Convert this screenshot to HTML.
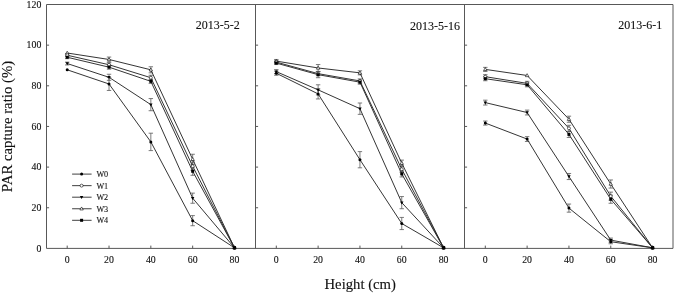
<!DOCTYPE html>
<html><head><meta charset="utf-8"><style>
html,body{margin:0;padding:0;background:#fff;}
body{width:675px;height:294px;overflow:hidden;}
svg{display:block;filter:grayscale(1) blur(0.3px);}
text{font-family:"Liberation Serif",serif;fill:#111;stroke:#111;stroke-width:0.12px;}
.tk{font-size:9.8px;}
.lg{font-size:8.2px;fill:#222;}
.tt{font-size:12px;}
.ax{font-size:14.7px;}
.ay{font-size:14.8px;}
</style></head><body>
<svg width="675" height="294" viewBox="0 0 675 294">
<rect x="0" y="0" width="675" height="294" fill="#fff"/>
<g stroke="#585858" stroke-width="1.0" fill="none">
<path d="M46.5,4.5H673.0V248.4H46.5Z"/>
<path d="M255.5,4.5V248.4"/>
<path d="M464.5,4.5V248.4"/>
<path d="M46.5,207.75h2.6"/>
<path d="M46.5,167.10h2.6"/>
<path d="M46.5,126.45h2.6"/>
<path d="M46.5,85.80h2.6"/>
<path d="M46.5,45.15h2.6"/>
<path d="M255.5,207.75h2.6"/>
<path d="M255.5,167.10h2.6"/>
<path d="M255.5,126.45h2.6"/>
<path d="M255.5,85.80h2.6"/>
<path d="M255.5,45.15h2.6"/>
<path d="M464.5,207.75h2.6"/>
<path d="M464.5,167.10h2.6"/>
<path d="M464.5,126.45h2.6"/>
<path d="M464.5,85.80h2.6"/>
<path d="M464.5,45.15h2.6"/>
<path d="M67.20,248.4v-2.8"/>
<path d="M109.02,248.4v-2.8"/>
<path d="M150.84,248.4v-2.8"/>
<path d="M192.66,248.4v-2.8"/>
<path d="M234.48,248.4v-2.8"/>
<path d="M276.30,248.4v-2.8"/>
<path d="M318.12,248.4v-2.8"/>
<path d="M359.94,248.4v-2.8"/>
<path d="M401.76,248.4v-2.8"/>
<path d="M443.58,248.4v-2.8"/>
<path d="M485.30,248.4v-2.8"/>
<path d="M527.12,248.4v-2.8"/>
<path d="M568.94,248.4v-2.8"/>
<path d="M610.76,248.4v-2.8"/>
<path d="M652.58,248.4v-2.8"/>
</g>
<g stroke="#5a5a5a" stroke-width="0.8" fill="none">
<path d="M109.02,57.05V61.91M106.82,57.05h4.4M106.82,61.91h4.4"/>
<path d="M150.84,66.77V72.84M148.64,66.77h4.4M148.64,72.84h4.4"/>
<path d="M192.66,154.25V164.37M190.46,154.25h4.4M190.46,164.37h4.4"/>
<path d="M67.20,53.81V56.64M65.00,53.81h4.4M65.00,56.64h4.4"/>
<path d="M109.02,62.72V66.77M106.82,62.72h4.4M106.82,66.77h4.4"/>
<path d="M150.84,75.27V80.13M148.64,75.27h4.4M148.64,80.13h4.4"/>
<path d="M192.66,162.14V170.24M190.46,162.14h4.4M190.46,170.24h4.4"/>
<path d="M67.20,55.83V58.67M65.00,55.83h4.4M65.00,58.67h4.4"/>
<path d="M109.02,65.15V69.20M106.82,65.15h4.4M106.82,69.20h4.4"/>
<path d="M150.84,79.32V83.37M148.64,79.32h4.4M148.64,83.37h4.4"/>
<path d="M192.66,167.21V175.31M190.46,167.21h4.4M190.46,175.31h4.4"/>
<path d="M67.20,62.11V64.94M65.00,62.11h4.4M65.00,64.94h4.4"/>
<path d="M109.02,74.26V80.33M106.82,74.26h4.4M106.82,80.33h4.4"/>
<path d="M150.84,98.56V110.71M148.64,98.56h4.4M148.64,110.71h4.4"/>
<path d="M192.66,193.12V203.25M190.46,193.12h4.4M190.46,203.25h4.4"/>
<path d="M109.02,77.50V90.46M106.82,77.50h4.4M106.82,90.46h4.4"/>
<path d="M150.84,133.19V150.60M148.64,133.19h4.4M148.64,150.60h4.4"/>
<path d="M192.66,215.60V225.73M190.46,215.60h4.4M190.46,225.73h4.4"/>
<path d="M276.30,59.48V62.72M274.10,59.48h4.4M274.10,62.72h4.4"/>
<path d="M318.12,64.54V71.42M315.92,64.54h4.4M315.92,71.42h4.4"/>
<path d="M359.94,70.81V74.87M357.74,70.81h4.4M357.74,74.87h4.4"/>
<path d="M401.76,160.12V166.19M399.56,160.12h4.4M399.56,166.19h4.4"/>
<path d="M276.30,60.69V63.53M274.10,60.69h4.4M274.10,63.53h4.4"/>
<path d="M318.12,71.63V75.68M315.92,71.63h4.4M315.92,75.68h4.4"/>
<path d="M359.94,78.92V82.97M357.74,78.92h4.4M357.74,82.97h4.4"/>
<path d="M401.76,166.19V172.27M399.56,166.19h4.4M399.56,172.27h4.4"/>
<path d="M276.30,61.70V64.54M274.10,61.70h4.4M274.10,64.54h4.4"/>
<path d="M318.12,71.63V77.70M315.92,71.63h4.4M315.92,77.70h4.4"/>
<path d="M359.94,80.13V84.18M357.74,80.13h4.4M357.74,84.18h4.4"/>
<path d="M401.76,170.85V176.93M399.56,170.85h4.4M399.56,176.93h4.4"/>
<path d="M276.30,69.60V73.65M274.10,69.60h4.4M274.10,73.65h4.4"/>
<path d="M318.12,84.79V94.91M315.92,84.79h4.4M315.92,94.91h4.4"/>
<path d="M359.94,103.01V114.35M357.74,103.01h4.4M357.74,114.35h4.4"/>
<path d="M401.76,196.57V208.72M399.56,196.57h4.4M399.56,208.72h4.4"/>
<path d="M276.30,71.22V75.27M274.10,71.22h4.4M274.10,75.27h4.4"/>
<path d="M318.12,88.84V98.96M315.92,88.84h4.4M315.92,98.96h4.4"/>
<path d="M359.94,151.61V167.81M357.74,151.61h4.4M357.74,167.81h4.4"/>
<path d="M401.76,217.43V229.58M399.56,217.43h4.4M399.56,229.58h4.4"/>
<path d="M485.30,67.37V71.42M483.10,67.37h4.4M483.10,71.42h4.4"/>
<path d="M568.94,116.18V122.25M566.74,116.18h4.4M566.74,122.25h4.4"/>
<path d="M610.76,179.96V188.06M608.56,179.96h4.4M608.56,188.06h4.4"/>
<path d="M485.30,74.66V78.71M483.10,74.66h4.4M483.10,78.71h4.4"/>
<path d="M527.12,81.34V85.40M524.92,81.34h4.4M524.92,85.40h4.4"/>
<path d="M568.94,125.29V131.36M566.74,125.29h4.4M566.74,131.36h4.4"/>
<path d="M610.76,192.11V200.21M608.56,192.11h4.4M608.56,200.21h4.4"/>
<path d="M485.30,76.69V80.74M483.10,76.69h4.4M483.10,80.74h4.4"/>
<path d="M527.12,82.76V86.81M524.92,82.76h4.4M524.92,86.81h4.4"/>
<path d="M568.94,131.36V137.44M566.74,131.36h4.4M566.74,137.44h4.4"/>
<path d="M610.76,195.15V203.25M608.56,195.15h4.4M608.56,203.25h4.4"/>
<path d="M485.30,100.18V105.04M483.10,100.18h4.4M483.10,105.04h4.4"/>
<path d="M527.12,110.10V114.96M524.92,110.10h4.4M524.92,114.96h4.4"/>
<path d="M568.94,173.48V179.56M566.74,173.48h4.4M566.74,179.56h4.4"/>
<path d="M610.76,238.08V242.13M608.56,238.08h4.4M608.56,242.13h4.4"/>
<path d="M485.30,121.04V125.09M483.10,121.04h4.4M483.10,125.09h4.4"/>
<path d="M527.12,136.63V141.49M524.92,136.63h4.4M524.92,141.49h4.4"/>
<path d="M568.94,204.06V212.16M566.74,204.06h4.4M566.74,212.16h4.4"/>
<path d="M610.76,239.70V243.75M608.56,239.70h4.4M608.56,243.75h4.4"/>
</g>
<g stroke="#2a2a2a" stroke-width="0.95" fill="none" stroke-linejoin="round">
<polyline points="67.20,53.00 109.02,59.48 150.84,69.80 192.66,159.31 234.48,247.80"/>
<polyline points="67.20,55.22 109.02,64.74 150.84,77.70 192.66,166.19 234.48,247.80"/>
<polyline points="67.20,57.25 109.02,67.17 150.84,81.34 192.66,171.26 234.48,247.80"/>
<polyline points="67.20,63.53 109.02,77.30 150.84,104.63 192.66,198.19 234.48,247.80"/>
<polyline points="67.20,69.80 109.02,83.98 150.84,141.89 192.66,220.67 234.48,247.80"/>
<polyline points="276.30,61.10 318.12,67.98 359.94,72.84 401.76,163.16 443.58,247.80"/>
<polyline points="276.30,62.11 318.12,73.65 359.94,80.94 401.76,169.23 443.58,247.80"/>
<polyline points="276.30,63.12 318.12,74.66 359.94,82.16 401.76,173.89 443.58,247.80"/>
<polyline points="276.30,71.63 318.12,89.85 359.94,108.68 401.76,202.64 443.58,247.80"/>
<polyline points="276.30,73.25 318.12,93.90 359.94,159.71 401.76,223.50 443.58,247.80"/>
<polyline points="485.30,69.40 527.12,75.47 568.94,119.21 610.76,184.01 652.58,247.80"/>
<polyline points="485.30,76.69 527.12,83.37 568.94,128.33 610.76,196.16 652.58,247.80"/>
<polyline points="485.30,78.71 527.12,84.79 568.94,134.40 610.76,199.20 652.58,247.80"/>
<polyline points="485.30,102.61 527.12,112.53 568.94,176.52 610.76,240.11 652.58,247.80"/>
<polyline points="485.30,123.06 527.12,139.06 568.94,208.11 610.76,241.73 652.58,247.80"/>
</g>
<path d="M65.48,54.20L68.92,54.20L67.20,51.20Z" fill="#fff" stroke="#000" stroke-width="0.6"/>
<path d="M107.30,60.68L110.75,60.68L109.02,57.68Z" fill="#fff" stroke="#000" stroke-width="0.6"/>
<path d="M149.12,71.00L152.57,71.00L150.84,68.00Z" fill="#fff" stroke="#000" stroke-width="0.6"/>
<path d="M190.94,160.51L194.39,160.51L192.66,157.51Z" fill="#fff" stroke="#000" stroke-width="0.6"/>
<path d="M232.76,249.00L236.21,249.00L234.48,246.00Z" fill="#fff" stroke="#000" stroke-width="0.6"/>
<circle cx="67.20" cy="55.22" r="1.50" fill="#fff" stroke="#000" stroke-width="0.6"/>
<circle cx="109.02" cy="64.74" r="1.50" fill="#fff" stroke="#000" stroke-width="0.6"/>
<circle cx="150.84" cy="77.70" r="1.50" fill="#fff" stroke="#000" stroke-width="0.6"/>
<circle cx="192.66" cy="166.19" r="1.50" fill="#fff" stroke="#000" stroke-width="0.6"/>
<circle cx="234.48" cy="247.80" r="1.50" fill="#fff" stroke="#000" stroke-width="0.6"/>
<rect x="65.70" y="55.75" width="3.00" height="3.00" fill="#000"/>
<rect x="107.52" y="65.67" width="3.00" height="3.00" fill="#000"/>
<rect x="149.34" y="79.84" width="3.00" height="3.00" fill="#000"/>
<rect x="191.16" y="169.76" width="3.00" height="3.00" fill="#000"/>
<rect x="232.98" y="246.30" width="3.00" height="3.00" fill="#000"/>
<path d="M65.48,62.33L68.92,62.33L67.20,65.33Z" fill="#000"/>
<path d="M107.30,76.10L110.75,76.10L109.02,79.10Z" fill="#000"/>
<path d="M149.12,103.43L152.57,103.43L150.84,106.43Z" fill="#000"/>
<path d="M190.94,196.99L194.39,196.99L192.66,199.99Z" fill="#000"/>
<path d="M232.76,246.60L236.21,246.60L234.48,249.60Z" fill="#000"/>
<circle cx="67.20" cy="69.80" r="1.50" fill="#000"/>
<circle cx="109.02" cy="83.98" r="1.50" fill="#000"/>
<circle cx="150.84" cy="141.89" r="1.50" fill="#000"/>
<circle cx="192.66" cy="220.67" r="1.50" fill="#000"/>
<circle cx="234.48" cy="247.80" r="1.50" fill="#000"/>
<path d="M274.57,62.30L278.03,62.30L276.30,59.30Z" fill="#fff" stroke="#000" stroke-width="0.6"/>
<path d="M316.39,69.18L319.85,69.18L318.12,66.18Z" fill="#fff" stroke="#000" stroke-width="0.6"/>
<path d="M358.22,74.04L361.67,74.04L359.94,71.04Z" fill="#fff" stroke="#000" stroke-width="0.6"/>
<path d="M400.03,164.36L403.49,164.36L401.76,161.36Z" fill="#fff" stroke="#000" stroke-width="0.6"/>
<path d="M441.86,249.00L445.31,249.00L443.58,246.00Z" fill="#fff" stroke="#000" stroke-width="0.6"/>
<circle cx="276.30" cy="62.11" r="1.50" fill="#fff" stroke="#000" stroke-width="0.6"/>
<circle cx="318.12" cy="73.65" r="1.50" fill="#fff" stroke="#000" stroke-width="0.6"/>
<circle cx="359.94" cy="80.94" r="1.50" fill="#fff" stroke="#000" stroke-width="0.6"/>
<circle cx="401.76" cy="169.23" r="1.50" fill="#fff" stroke="#000" stroke-width="0.6"/>
<circle cx="443.58" cy="247.80" r="1.50" fill="#fff" stroke="#000" stroke-width="0.6"/>
<rect x="274.80" y="61.62" width="3.00" height="3.00" fill="#000"/>
<rect x="316.62" y="73.16" width="3.00" height="3.00" fill="#000"/>
<rect x="358.44" y="80.66" width="3.00" height="3.00" fill="#000"/>
<rect x="400.26" y="172.39" width="3.00" height="3.00" fill="#000"/>
<rect x="442.08" y="246.30" width="3.00" height="3.00" fill="#000"/>
<path d="M274.57,70.43L278.03,70.43L276.30,73.43Z" fill="#000"/>
<path d="M316.39,88.65L319.85,88.65L318.12,91.65Z" fill="#000"/>
<path d="M358.22,107.48L361.67,107.48L359.94,110.48Z" fill="#000"/>
<path d="M400.03,201.44L403.49,201.44L401.76,204.44Z" fill="#000"/>
<path d="M441.86,246.60L445.31,246.60L443.58,249.60Z" fill="#000"/>
<circle cx="276.30" cy="73.25" r="1.50" fill="#000"/>
<circle cx="318.12" cy="93.90" r="1.50" fill="#000"/>
<circle cx="359.94" cy="159.71" r="1.50" fill="#000"/>
<circle cx="401.76" cy="223.50" r="1.50" fill="#000"/>
<circle cx="443.58" cy="247.80" r="1.50" fill="#000"/>
<path d="M483.57,70.60L487.03,70.60L485.30,67.60Z" fill="#fff" stroke="#000" stroke-width="0.6"/>
<path d="M525.39,76.67L528.85,76.67L527.12,73.67Z" fill="#fff" stroke="#000" stroke-width="0.6"/>
<path d="M567.22,120.41L570.67,120.41L568.94,117.41Z" fill="#fff" stroke="#000" stroke-width="0.6"/>
<path d="M609.03,185.21L612.49,185.21L610.76,182.21Z" fill="#fff" stroke="#000" stroke-width="0.6"/>
<path d="M650.86,249.00L654.31,249.00L652.58,246.00Z" fill="#fff" stroke="#000" stroke-width="0.6"/>
<circle cx="485.30" cy="76.69" r="1.50" fill="#fff" stroke="#000" stroke-width="0.6"/>
<circle cx="527.12" cy="83.37" r="1.50" fill="#fff" stroke="#000" stroke-width="0.6"/>
<circle cx="568.94" cy="128.33" r="1.50" fill="#fff" stroke="#000" stroke-width="0.6"/>
<circle cx="610.76" cy="196.16" r="1.50" fill="#fff" stroke="#000" stroke-width="0.6"/>
<circle cx="652.58" cy="247.80" r="1.50" fill="#fff" stroke="#000" stroke-width="0.6"/>
<rect x="483.80" y="77.21" width="3.00" height="3.00" fill="#000"/>
<rect x="525.62" y="83.29" width="3.00" height="3.00" fill="#000"/>
<rect x="567.44" y="132.90" width="3.00" height="3.00" fill="#000"/>
<rect x="609.26" y="197.70" width="3.00" height="3.00" fill="#000"/>
<rect x="651.08" y="246.30" width="3.00" height="3.00" fill="#000"/>
<path d="M483.57,101.41L487.03,101.41L485.30,104.41Z" fill="#000"/>
<path d="M525.39,111.33L528.85,111.33L527.12,114.33Z" fill="#000"/>
<path d="M567.22,175.32L570.67,175.32L568.94,178.32Z" fill="#000"/>
<path d="M609.03,238.91L612.49,238.91L610.76,241.91Z" fill="#000"/>
<path d="M650.86,246.60L654.31,246.60L652.58,249.60Z" fill="#000"/>
<circle cx="485.30" cy="123.06" r="1.50" fill="#000"/>
<circle cx="527.12" cy="139.06" r="1.50" fill="#000"/>
<circle cx="568.94" cy="208.11" r="1.50" fill="#000"/>
<circle cx="610.76" cy="241.73" r="1.50" fill="#000"/>
<circle cx="652.58" cy="247.80" r="1.50" fill="#000"/>
<path d="M72.1,174.10H91.6" stroke="#2a2a2a" stroke-width="0.9"/>
<circle cx="81.60" cy="174.10" r="1.50" fill="#000"/>
<text x="96.4" y="177.00" class="lg">W0</text>
<path d="M72.1,185.65H91.6" stroke="#2a2a2a" stroke-width="0.9"/>
<circle cx="81.60" cy="185.65" r="1.50" fill="#fff" stroke="#000" stroke-width="0.6"/>
<text x="96.4" y="188.55" class="lg">W1</text>
<path d="M72.1,197.20H91.6" stroke="#2a2a2a" stroke-width="0.9"/>
<path d="M79.88,196.00L83.32,196.00L81.60,199.00Z" fill="#000"/>
<text x="96.4" y="200.10" class="lg">W2</text>
<path d="M72.1,208.75H91.6" stroke="#2a2a2a" stroke-width="0.9"/>
<path d="M79.88,209.95L83.32,209.95L81.60,206.95Z" fill="#fff" stroke="#000" stroke-width="0.6"/>
<text x="96.4" y="211.65" class="lg">W3</text>
<path d="M72.1,220.30H91.6" stroke="#2a2a2a" stroke-width="0.9"/>
<rect x="80.10" y="218.80" width="3.00" height="3.00" fill="#000"/>
<text x="96.4" y="223.20" class="lg">W4</text>
<text x="41.3" y="251.70" class="tk" text-anchor="end">0</text>
<text x="41.3" y="211.05" class="tk" text-anchor="end">20</text>
<text x="41.3" y="170.40" class="tk" text-anchor="end">40</text>
<text x="41.3" y="129.75" class="tk" text-anchor="end">60</text>
<text x="41.3" y="89.10" class="tk" text-anchor="end">80</text>
<text x="41.3" y="48.45" class="tk" text-anchor="end">100</text>
<text x="41.3" y="7.80" class="tk" text-anchor="end">120</text>
<text x="67.20" y="262.6" class="tk" text-anchor="middle">0</text>
<text x="109.02" y="262.6" class="tk" text-anchor="middle">20</text>
<text x="150.84" y="262.6" class="tk" text-anchor="middle">40</text>
<text x="192.66" y="262.6" class="tk" text-anchor="middle">60</text>
<text x="234.48" y="262.6" class="tk" text-anchor="middle">80</text>
<text x="276.30" y="262.6" class="tk" text-anchor="middle">0</text>
<text x="318.12" y="262.6" class="tk" text-anchor="middle">20</text>
<text x="359.94" y="262.6" class="tk" text-anchor="middle">40</text>
<text x="401.76" y="262.6" class="tk" text-anchor="middle">60</text>
<text x="443.58" y="262.6" class="tk" text-anchor="middle">80</text>
<text x="485.30" y="262.6" class="tk" text-anchor="middle">0</text>
<text x="527.12" y="262.6" class="tk" text-anchor="middle">20</text>
<text x="568.94" y="262.6" class="tk" text-anchor="middle">40</text>
<text x="610.76" y="262.6" class="tk" text-anchor="middle">60</text>
<text x="652.58" y="262.6" class="tk" text-anchor="middle">80</text>
<text x="195.8" y="28.9" class="tt">2013-5-2</text>
<text x="410.0" y="29.6" class="tt">2013-5-16</text>
<text x="618.3" y="29.0" class="tt">2013-6-1</text>
<text x="360.2" y="289.1" class="ax" text-anchor="middle">Height (cm)</text>
<text transform="translate(12.0,126.5) rotate(-90)" class="ay" text-anchor="middle">PAR capture ratio (%)</text>
</svg>
</body></html>
